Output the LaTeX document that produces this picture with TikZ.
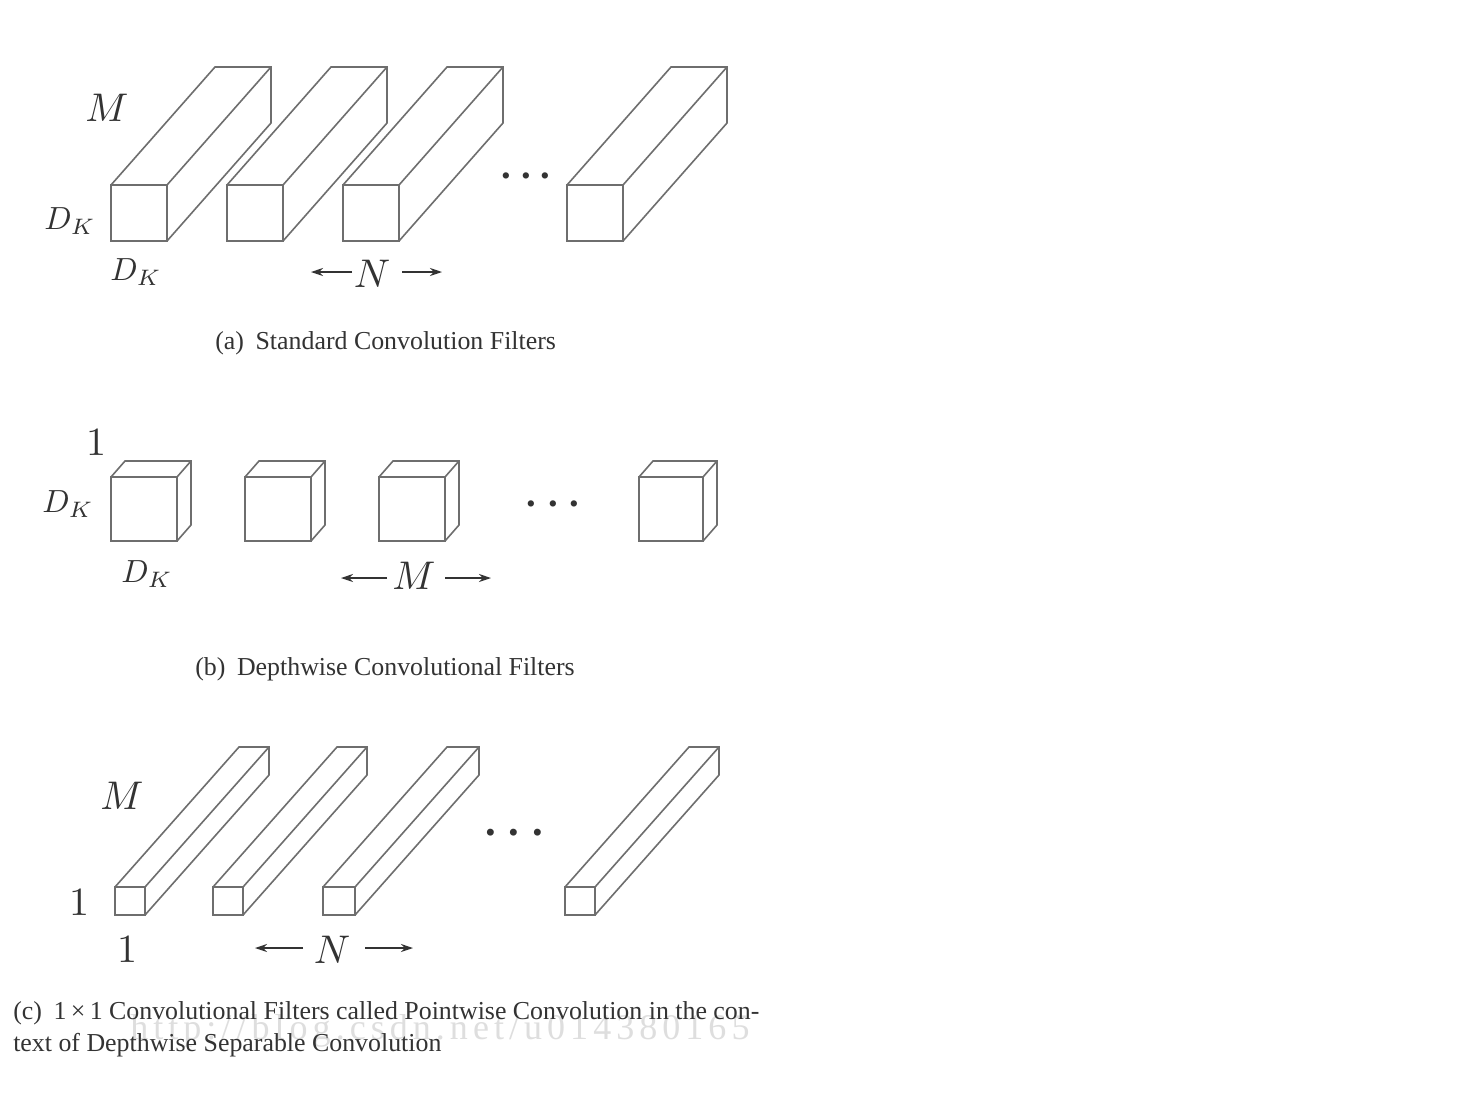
\documentclass[tikz,border=0pt]{standalone}
\usepackage{fontspec}
\setmainfont{Liberation Serif}
\usetikzlibrary{arrows.meta}
\definecolor{edge}{HTML}{6E6E6E}
\definecolor{ink}{HTML}{333333}
\tikzset{
  solid edge/.style={draw=edge,line width=1.2pt,line join=miter},
  mathlabel/.style={inner sep=0pt,text=ink,scale=3},
  dklabel/.style={inner sep=0pt,text=ink,scale=2.4},
  dotslabel/.style={inner sep=0pt,text=ink,font=\fontsize{29}{30}\selectfont\bfseries},
  captionlabel/.style={inner sep=0pt,anchor=base west,text=ink,font=\fontsize{19.4}{24}\selectfont},
  markline/.style={draw=ink,line width=1pt,-{Stealth[length=9pt,width=6pt]}},
}
% #1 x left, #2 x right, #3 y top, #4 y bottom, #5 dx, #6 dy
\newcommand{\filterbox}[6]{%
  \draw[solid edge] (#1,#3) rectangle (#2,#4);
  \draw[solid edge] (#1,#3) -- ++(#5,#6) -- ([shift={(#5,#6)}]#2,#3) -- ++(0,#4-#3) -- (#2,#4);
  \draw[solid edge] (#2,#3) -- ++(#5,#6);
}
\begin{document}
\begin{tikzpicture}[x=0.75pt,y=-0.75pt]
\useasboundingbox (0,0) rectangle (1476,1100);
\fill[white] (0,0) rectangle (1476,1100);
% (a)
\filterbox{111}{167}{185}{241}{104}{-118}
\filterbox{227}{283}{185}{241}{104}{-118}
\filterbox{343}{399}{185}{241}{104}{-118}
\filterbox{567}{623}{185}{241}{104}{-118}
\node[mathlabel] (aM) at (107,108) {$M$};
\node[dklabel] (aD1) at (70,221) {$D_K$};
\node[dklabel] (aD2) at (136,272) {$D_K$};
\node[dotslabel] (aDots) at (526,176) {.\hspace{0.25em}.\hspace{0.25em}.};
\node[mathlabel] (aN) at (372,274) {$N$};
\coordinate (aL) at (311,272);
\coordinate (aLs) at (352,272);
\coordinate (aR) at (442,272);
\coordinate (aRs) at (402,272);
\draw[markline] (aLs) -- (aL);
\draw[markline] (aRs) -- (aR);
\node[captionlabel] (aCap) at (215,349) {(a)\hspace{0.45em}Standard Convolution Filters};
% (b)
\filterbox{111}{177}{477}{541}{14}{-16}
\filterbox{245}{311}{477}{541}{14}{-16}
\filterbox{379}{445}{477}{541}{14}{-16}
\filterbox{639}{703}{477}{541}{14}{-16}
\node[mathlabel] (b1) at (96,443) {$1$};
\node[dklabel] (bD1) at (68,504) {$D_K$};
\node[dklabel] (bD2) at (147,574) {$D_K$};
\node[dotslabel] (bDots) at (553,504) {.\hspace{0.3em}.\hspace{0.3em}.};
\node[mathlabel] (bM) at (414,576) {$M$};
\coordinate (bL) at (341,578);
\coordinate (bLs) at (387,578);
\coordinate (bR) at (491,578);
\coordinate (bRs) at (445,578);
\draw[markline] (bLs) -- (bL);
\draw[markline] (bRs) -- (bR);
\node[captionlabel] (bCap) at (195,675) {(b)\hspace{0.45em}Depthwise Convolutional Filters};
% (c)
\filterbox{115}{145}{887}{915}{124}{-140}
\filterbox{213}{243}{887}{915}{124}{-140}
\filterbox{323}{355}{887}{915}{124}{-140}
\filterbox{565}{595}{887}{915}{124}{-140}
\node[mathlabel] (cM) at (122,796) {$M$};
\node[mathlabel] (c1a) at (79,903) {$1$};
\node[mathlabel] (c1b) at (127,950) {$1$};
\node[dotslabel,font=\fontsize{32}{36}\selectfont\bfseries] (cDots) at (514,833) {.\hspace{0.3em}.\hspace{0.3em}.};
\node[mathlabel] (cN) at (332,950) {$N$};
\coordinate (cL) at (255,948);
\coordinate (cLs) at (303,948);
\coordinate (cR) at (413,948);
\coordinate (cRs) at (365,948);
\draw[markline] (cLs) -- (cL);
\draw[markline] (cRs) -- (cR);
\node[inner sep=0pt,anchor=base west,text=black!13,font=\fontsize{27}{30}\selectfont\addfontfeature{LetterSpace=14}] (wm) at (130,1039) {http://blog.csdn.net/u014380165};
\node[captionlabel] (cCap1) at (13,1019) {(c)\hspace{0.45em}1\,×\,1 Convolutional Filters called Pointwise Convolution in the con-};
\node[captionlabel] (cCap2) at (13,1051) {text of Depthwise Separable Convolution};
\end{tikzpicture}
\end{document}
